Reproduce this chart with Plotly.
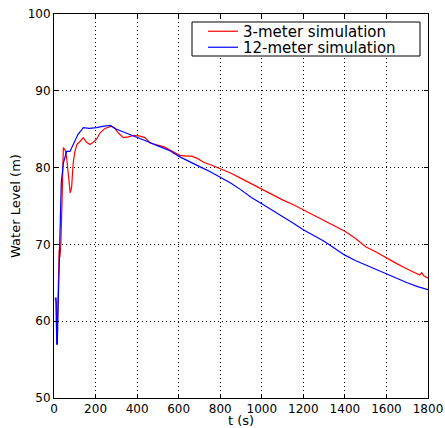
import plotly.graph_objects as go

# 3-meter simulation
t_3m = [5, 10, 14, 18, 22, 25, 28, 33, 38, 42, 45, 50, 55, 62, 70, 78, 85, 92, 100, 110,
        125, 141, 157, 173, 189, 205, 221, 245, 277, 293, 310, 334, 358, 382, 414, 438,
        462, 494, 530, 558, 606, 640, 663, 690, 720, 760, 800, 850, 900, 950, 1000, 1050,
        1100, 1150, 1200, 1250, 1300, 1350, 1400, 1450, 1500, 1550, 1600, 1650, 1700,
        1740, 1760, 1770, 1780, 1800]
wl_3m = [63.0, 62.5, 57.0, 62.0, 68.5, 69.3, 68.3, 70.0, 75.0, 80.5, 82.6, 82.4, 82.2, 81.0,
         78.5, 76.7, 77.5, 80.5, 82.0, 83.0, 83.4, 83.9, 83.3, 83.0, 83.3, 83.7, 84.5, 85.1,
         85.4, 85.1, 84.5, 83.9, 84.0, 84.2, 84.1, 83.9, 83.2, 83.0, 82.7, 82.3, 81.6, 81.5,
         81.5, 81.2, 80.7, 80.3, 79.9, 79.3, 78.6, 77.9, 77.1, 76.5, 75.8, 75.2, 74.5,
         73.9, 73.2, 72.5, 71.7, 70.8, 69.7, 69.0, 68.2, 67.5, 66.8, 66.2, 66.0, 66.3,
         65.9, 65.6]

# 12-meter simulation
t_12m = [5, 10, 13, 16, 20, 25, 30, 35, 45, 55, 61, 77, 90, 101, 115, 130, 141, 170, 205,
         240, 270, 301, 350, 398, 450, 494, 558, 606, 663, 711, 750, 800, 850, 900, 950,
         1000, 1050, 1100, 1150, 1200, 1250, 1300, 1350, 1400, 1450, 1500, 1550, 1600,
         1650, 1700, 1750, 1800]
wl_12m = [63.0, 63.0, 57.0, 57.0, 62.0, 67.0, 72.0, 78.0, 80.6, 81.5, 82.1, 82.1, 82.8,
          83.4, 84.3, 84.8, 85.2, 85.1, 85.2, 85.4, 85.5, 85.0, 84.5, 84.0, 83.4, 82.9,
          82.2, 81.4, 80.6, 80.0, 79.5, 78.8, 78.0, 77.1, 76.1, 75.3, 74.5, 73.6, 72.8,
          71.9, 71.2, 70.4, 69.5, 68.6, 67.9, 67.3, 66.8, 66.2, 65.6, 65.0, 64.5, 64.1]

x_ticks = list(range(0, 1801, 200))
y_ticks = list(range(50, 101, 10))

fig = go.Figure()
fig.add_trace(go.Scatter(x=t_3m, y=wl_3m, mode="lines", name="3-meter simulation",
                         line=dict(color="#ff0000", width=1.2), legend="legend"))
fig.add_trace(go.Scatter(x=t_12m, y=wl_12m, mode="lines", name="12-meter simulation",
                         line=dict(color="#0000ff", width=1.2), legend="legend2"))

axis_common = dict(
    showline=True, linecolor="black", linewidth=1, mirror="allticks",
    ticks="inside", ticklen=4, tickcolor="black", automargin=False,
    showgrid=True, gridcolor="black", griddash="1px,3px", gridwidth=1,
    zeroline=False, tickfont=dict(size=12, color="black"),
)

W, H = 445, 428
ml, mr, mt, mb = 54, 17, 14, 30
pw, ph = W - ml - mr, H - mt - mb

def px_to_paper_x(px):
    return (px - ml) / pw

def px_to_paper_y(py):
    return 1 - (py - mt) / ph

legend_common = dict(xanchor="left", yanchor="top", bgcolor="rgba(0,0,0,0)",
                     borderwidth=0, font=dict(size=15), itemwidth=30)

fig.update_layout(
    width=W, height=H,
    margin=dict(l=ml, r=mr, t=mt, b=mb),
    paper_bgcolor="white", plot_bgcolor="white",
    font=dict(family="DejaVu Sans", color="black"),
    xaxis=dict(range=[0, 1800], tickvals=x_ticks,
               title=dict(text="t (s)", font=dict(size=13), standoff=8), **axis_common),
    yaxis=dict(range=[50, 100], tickvals=y_ticks,
               title=dict(text="Water Level (m)", font=dict(size=13), standoff=4), **axis_common),
    legend=dict(x=px_to_paper_x(203), y=px_to_paper_y(15), **legend_common),
    legend2=dict(x=px_to_paper_x(203), y=px_to_paper_y(31), **legend_common),
    showlegend=True,
    shapes=[dict(type="rect", xref="paper", yref="paper",
                 x0=px_to_paper_x(192), x1=px_to_paper_x(420),
                 y0=px_to_paper_y(56), y1=px_to_paper_y(22),
                 line=dict(color="black", width=1), fillcolor="white", layer="above")],
)

fig.write_html("out.html", post_script="document.body.style.margin='0';",
               config={"displayModeBar": False})
